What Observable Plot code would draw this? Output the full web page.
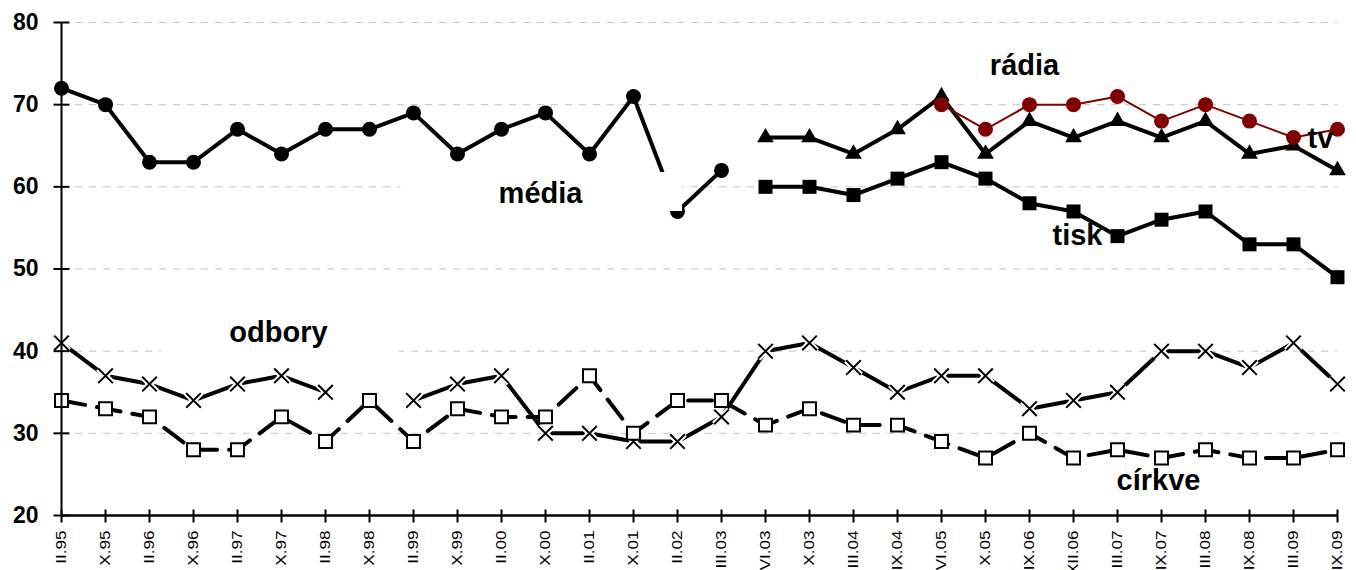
<!DOCTYPE html>
<html><head><meta charset="utf-8">
<script src="https://cdn.jsdelivr.net/npm/d3@7"></script>
<script src="https://cdn.jsdelivr.net/npm/@observablehq/plot@0.6"></script>
<style>html,body{margin:0;padding:0;background:#fff}#chart svg{display:block}</style>
</head><body><div id="chart"></div>
<script>
const cats = ["II.95","X.95","II.96","X.96","II.97","X.97","II.98","X.98","II.99","X.99","II.00","X.00","II.01","X.01","II.02","III.03","VI.03","X.03","III.04","IX.04","VI.05","X.05","IX.06","XII.06","III.07","IX.07","III.08","IX.08","III.09","IX.09"];
const media  = [72,70,63,63,67,64,67,67,69,64,67,69,64,71,57,62,null,null,null,null,null,null,null,null,null,null,null,null,null,null];
const tisk   = [null,null,null,null,null,null,null,null,null,null,null,null,null,null,null,null,60,60,59,61,63,61,58,57,54,56,57,53,53,49];
const tv     = [null,null,null,null,null,null,null,null,null,null,null,null,null,null,null,null,66,66,64,67,71,64,68,66,68,66,68,64,65,62];
const radia  = [null,null,null,null,null,null,null,null,null,null,null,null,null,null,null,null,null,null,null,null,70,67,70,70,71,68,70,68,66,67];
const odbory = [41,37,36,34,36,37,35,null,34,36,37,30,30,29,29,32,40,41,38,35,37,37,33,34,35,40,40,38,41,36];
const cirkve = [34,33,32,28,28,32,29,34,29,33,32,32,37,30,34,34,31,33,31,31,29,27,30,27,28,27,28,27,27,28];
const yTicks = [20,30,40,50,60,70,80];
const gridVals = [30,40,50,60,70,80];
const labelTexts = ["média","odbory","rádia","tv","tisk","církve"];
const labelCats  = ["X.00","X.97","IX.06","IX.09","XII.06","IX.07"];
const labelVals  = [59.2,42.2,74.8,65.9,54.0,24.2];
const labelDx    = [-5,-3,-5,-17,4,-3];

const rows = vals => cats.map((c, i) => ({c, v: vals[i]}));
const first = cats[0], last = cats[cats.length - 1];
const hLine = {draw(ctx) { ctx.moveTo(-8, 0); ctx.lineTo(8, 0); }};
const vLine = {draw(ctx) { ctx.moveTo(0, -6); ctx.lineTo(0, 7); }};
const font = "'Liberation Sans', Arial, Helvetica, sans-serif";

const labelMarks = labelTexts.map((t, i) => Plot.text([{t, c: labelCats[i], v: labelVals[i]}], {
  x: "c", y: "v", text: "t", dx: labelDx[i], fontSize: 29, fontWeight: "bold", fill: "black"
}));

const chart = Plot.plot({
  width: 1356, height: 570,
  marginLeft: 60, marginRight: 18, marginTop: 22, marginBottom: 55,
  style: {fontFamily: font, background: "white", color: "black"},
  x: {type: "point", domain: cats, padding: 0},
  y: {domain: [20, 80]},
  marks: [
    Plot.ruleY(gridVals, {x1: () => first, x2: () => last, stroke: "#c4c4c4", strokeWidth: 1, strokeDasharray: "7,7"}),
    Plot.line(rows(cirkve), {x: "c", y: "v", stroke: "black", strokeWidth: 4, strokeDasharray: "24,12"}),
    Plot.line(rows(odbory), {x: "c", y: "v", stroke: "black", strokeWidth: 4}),
    Plot.line(rows(media), {x: "c", y: "v", stroke: "black", strokeWidth: 4}),
    Plot.line(rows(tisk), {x: "c", y: "v", stroke: "black", strokeWidth: 4}),
    Plot.line(rows(tv), {x: "c", y: "v", stroke: "black", strokeWidth: 4}),
    Plot.dot(rows(odbory), {x: "c", y: "v", symbol: "times", r: 6.7, stroke: "white", strokeWidth: 6}),
    Plot.dot(rows(odbory), {x: "c", y: "v", symbol: "times", r: 6.7, stroke: "black", strokeWidth: 2}),
    Plot.dot(rows(cirkve), {x: "c", y: "v", symbol: "square", r: 7.3, fill: "white", stroke: "black", strokeWidth: 2}),
    Plot.dot(rows(media), {x: "c", y: "v", r: 7.5, fill: "black"}),
    Plot.dot(rows(tisk), {x: "c", y: "v", symbol: "square", r: 7.9, fill: "black"}),
    Plot.dot(rows(tv), {x: "c", y: "v", symbol: "triangle", r: 6.2, fill: "black"}),
    Plot.line(rows(radia), {x: "c", y: "v", stroke: "#800000", strokeWidth: 2}),
    Plot.dot(rows(radia), {x: "c", y: "v", r: 7.5, fill: "#800000"}),
    Plot.rect([{c1: "II.99", c2: "II.02", v1: 57.0, v2: 61.75}], {x1: "c1", x2: "c2", y1: "v1", y2: "v2", fill: "white", insetLeft: -12.6, insetRight: -5}),
    Plot.rect([{c1: "II.96", c2: "II.99", v1: 39.5, v2: 44.4}], {x1: "c1", x2: "c2", y1: "v1", y2: "v2", fill: "white", insetLeft: 12, insetRight: 14.6}),
    ...labelMarks,
    Plot.ruleX([first], {x: d => d, y1: 20, y2: 80, stroke: "black", strokeWidth: 2}),
    Plot.ruleY([20], {x1: () => first, x2: () => last, stroke: "black", strokeWidth: 2.5}),
    Plot.dot(yTicks, {x: () => first, y: d => d, symbol: hLine, stroke: "black", strokeWidth: 2}),
    Plot.dot(cats, {x: d => d, y: () => 20, symbol: vLine, stroke: "black", strokeWidth: 2}),
    Plot.axisY(yTicks, {tickSize: 0, tickPadding: 22, fontSize: 23, fontWeight: "bold"}),
    Plot.axisX({tickSize: 0, tickRotate: -90, tickPadding: 15, fontSize: 14})
  ]
});
document.getElementById("chart").appendChild(chart);
let xl = d3.select(chart).selectAll('g[aria-label="x-axis tick label"] text');
xl.each(function() {
  const t = this.getAttribute("transform") || "";
  this.setAttribute("transform", t + " scale(1.22,1)");
});
</script></body></html>
